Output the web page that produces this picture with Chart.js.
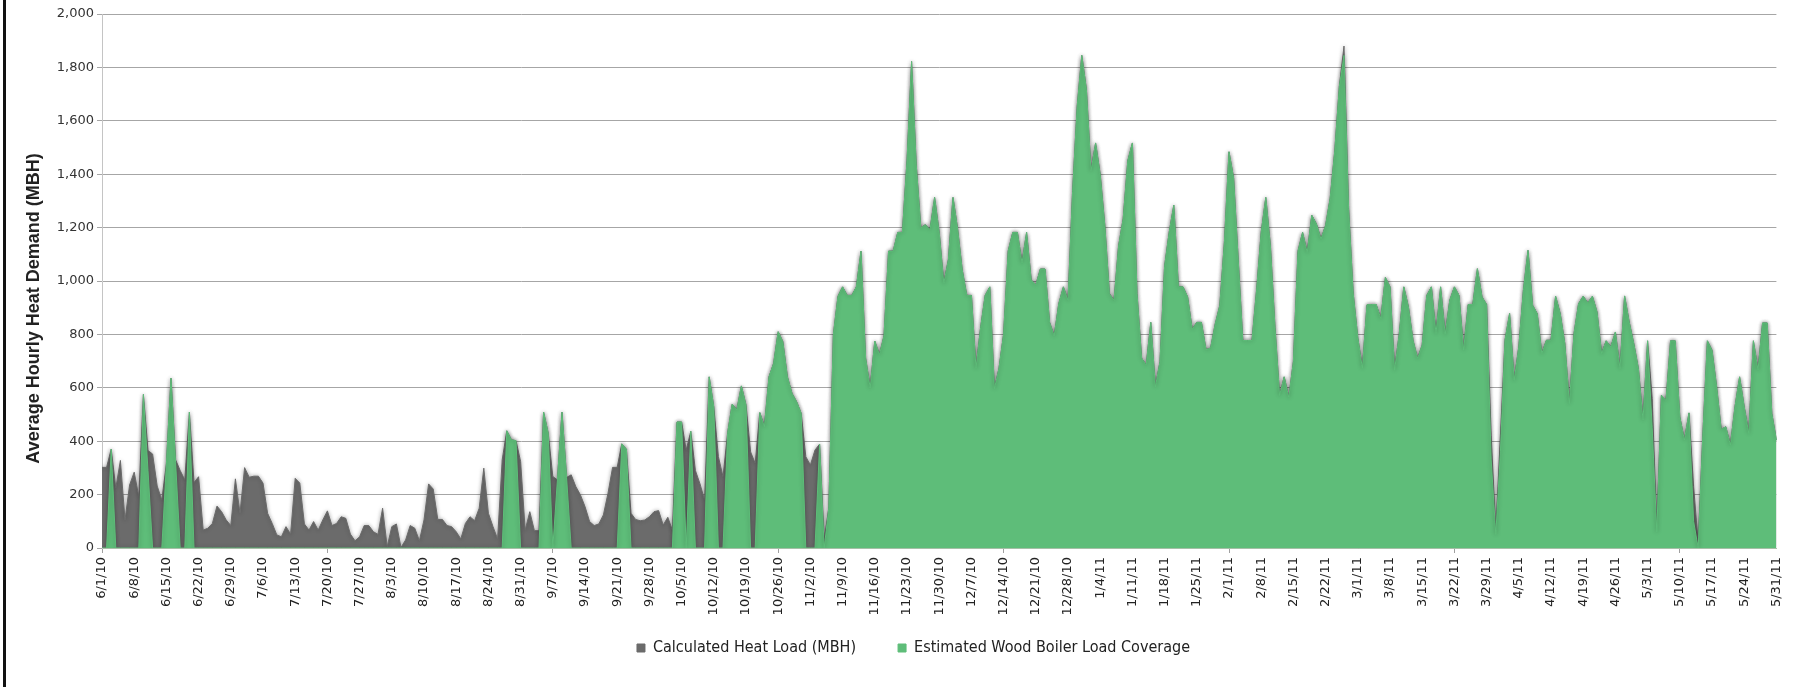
<!DOCTYPE html>
<html>
<head>
<meta charset="utf-8">
<title>Average Hourly Heat Demand</title>
<script src="https://cdn.jsdelivr.net/npm/chart.js@4.4.1/dist/chart.umd.min.js"></script>
<style>
  html, body { margin: 0; padding: 0; background: #fff; }
  #wrap { width: 1796px; height: 687px; }
</style>
</head>
<body>
<div id="wrap"><canvas id="heatChart" width="1796" height="687"></canvas></div>
<script>
/* daily values, 6/1/10 - 5/31/11, one array per month */
const loadJun = [302,302,370,224,328,105,236,284,193,575,365,352,232,180,315,636,330,290,255,509,245,267,67,74,92,157,136,105,84,259];
const boilJun = [0,0,370,0,0,0,0,0,0,575,290,0,0,0,315,636,320,0,0,509,0,0,0,0,0,0,0,0,0,0];

const loadJul = [130,301,265,269,269,243,130,92,49,42,80,52,261,243,90,67,99,67,105,139,84,92,117,111,52,27,42,84,84,61,51];
const boilJul = [0,0,0,0,0,0,0,0,0,0,0,0,0,0,0,0,0,0,0,0,0,0,0,0,0,0,0,0,0,0,0];

const loadAug = [149,5,80,90,2,30,84,74,27,105,240,221,107,107,84,80,61,34,92,117,102,149,299,130,80,34,330,439,405,402,324];
const boilAug = [0,0,0,0,0,0,0,0,0,0,0,0,0,0,0,0,0,0,0,0,0,0,0,0,0,0,0,439,405,402,0];

const loadSep = [67,136,65,65,509,430,268,255,509,264,274,230,199,155,99,84,90,124,205,302,302,390,370,130,107,102,105,117,136,140];
const boilSep = [0,0,0,0,509,430,0,255,509,264,0,0,0,0,0,0,0,0,0,0,0,390,370,0,0,0,0,0,0,0];

const loadOct = [86,115,67,472,472,367,437,290,240,180,641,527,342,267,429,539,517,607,535,360,317,507,454,641,691,810,773,641,579,548,504];
const boilOct = [0,0,0,472,472,0,437,0,0,0,641,527,0,0,429,539,517,607,535,0,0,507,454,641,691,810,773,641,579,548,504];

const loadNov = [342,311,367,389,30,150,800,943,978,946,946,978,1112,711,599,775,724,794,1112,1112,1182,1182,1450,1822,1437,1199,1211,1192,1313,1182];
const boilNov = [0,0,0,389,0,150,800,943,978,946,946,978,1112,711,599,775,724,794,1112,1112,1182,1182,1450,1822,1437,1199,1211,1192,1313,1182];

const loadDec = [991,1080,1313,1195,1042,946,946,673,825,946,978,596,673,800,1112,1182,1182,1067,1182,1004,985,1045,1045,845,794,915,978,927,1335,1654,1845];
const boilDec = [991,1080,1313,1195,1042,946,946,673,825,946,978,596,673,800,1112,1182,1182,1067,1182,1004,985,1045,1045,845,794,915,978,927,1335,1654,1845];

const loadJan = [1717,1412,1517,1399,1208,953,927,1131,1233,1450,1517,953,711,685,845,603,698,1055,1182,1284,978,978,940,819,845,845,743,749,838,908,1144];
const boilJan = [1717,1412,1517,1399,1208,953,927,1131,1233,1450,1517,953,711,685,845,603,698,1055,1182,1284,978,978,940,819,845,845,743,749,838,908,1144];

const loadFeb = [1484,1386,1080,777,777,777,966,1182,1313,1131,825,571,641,564,698,1112,1182,1106,1246,1214,1157,1208,1310,1488,1730,1880,1271,953];
const boilFeb = [1484,1386,1080,777,777,777,966,1182,1313,1131,825,571,641,564,698,1112,1182,1106,1246,1214,1157,1208,1310,1488,1730,1845,1271,953];

const loadMar = [787,673,911,912,912,859,1013,978,666,800,978,903,778,710,760,946,978,803,978,800,928,978,946,741,912,912,1046,940,912,420,60];
const boilMar = [787,673,911,912,912,859,1013,978,666,800,978,903,778,710,760,946,978,803,978,800,928,978,946,741,912,912,1046,940,912,330,50];

const loadApr = [420,778,878,628,753,965,1115,909,878,728,778,778,943,878,766,541,803,915,943,918,943,884,728,776,753,809,672,944,846,765];
const boilApr = [360,778,878,628,753,965,1115,909,878,728,778,778,943,878,766,541,803,915,943,918,943,884,728,776,753,809,672,944,846,765];

const loadMay = [672,479,776,560,70,572,553,776,776,491,404,506,230,20,420,776,741,604,444,454,385,529,641,529,429,776,666,843,843,504,404];
const boilMay = [672,479,776,450,60,572,553,776,776,491,404,506,100,0,420,776,741,604,444,454,385,529,641,529,429,776,666,843,843,504,404];

const weekLabels = [
    '6/1/10','6/8/10','6/15/10','6/22/10','6/29/10','7/6/10','7/13/10','7/20/10','7/27/10',
    '8/3/10','8/10/10','8/17/10','8/24/10','8/31/10','9/7/10','9/14/10','9/21/10','9/28/10',
    '10/5/10','10/12/10','10/19/10','10/26/10','11/2/10','11/9/10','11/16/10','11/23/10','11/30/10',
    '12/7/10','12/14/10','12/21/10','12/28/10','1/4/11','1/11/11','1/18/11','1/25/11',
    '2/1/11','2/8/11','2/15/11','2/22/11','3/1/11','3/8/11','3/15/11','3/22/11','3/29/11',
    '4/5/11','4/12/11','4/19/11','4/26/11','5/3/11','5/10/11','5/17/11','5/24/11','5/31/11'
];

const heatLoad = [].concat(loadJun, loadJul, loadAug, loadSep, loadOct, loadNov,
                           loadDec, loadJan, loadFeb, loadMar, loadApr, loadMay);
const boilerCoverage = [].concat(boilJun, boilJul, boilAug, boilSep, boilOct, boilNov,
                                 boilDec, boilJan, boilFeb, boilMar, boilApr, boilMay);

// one category per day
const dayLabels = heatLoad.map((_, i) => {
    const d = new Date(2010, 5, 1 + i);
    return (d.getMonth() + 1) + '/' + d.getDate() + '/' + String(d.getFullYear()).slice(2);
});

const GRAY = '#6b6b6b';
const GREEN = '#5ebd79';
const TICK_FONT = { family: "'DejaVu Sans', Verdana, sans-serif", size: 13 };

/* soft halo round the areas, like the original */
const areaGlow = {
    id: 'areaGlow',
    beforeDatasetsDraw(chart) {
        const ctx = chart.ctx;
        ctx.save();
        ctx.shadowColor = 'rgba(0,0,0,0.3)';
        ctx.shadowBlur = 4;
    },
    afterDatasetsDraw(chart) {
        chart.ctx.restore();
    }
};

/* legend sits a little right of the canvas centre in the original */
const legendNudge = {
    id: 'legendNudge',
    afterLayout(chart) {
        const lg = chart.legend;
        if (!lg) return;
        lg.left += 25;
        lg.right += 25;
    }
};

/* black frame edge on the left */
const frameEdge = {
    id: 'frameEdge',
    afterDraw(chart) {
        const ctx = chart.ctx;
        ctx.save();
        ctx.fillStyle = '#111';
        ctx.fillRect(3, 0, 3, chart.height);
        ctx.restore();
    }
};

new Chart(document.getElementById('heatChart'), {
    type: 'line',
    data: {
        labels: dayLabels,
        datasets: [{
            // trailing spaces widen the gap to the second legend item
            label: 'Calculated Heat Load (MBH)       ',
            data: heatLoad,
            backgroundColor: GRAY,
            borderColor: GRAY,
            borderWidth: 1,
            fill: 'origin',
            pointRadius: 0,
            tension: 0,
            order: 2
        }, {
            label: 'Estimated Wood Boiler Load Coverage',
            data: boilerCoverage,
            backgroundColor: GREEN,
            borderColor: GREEN,
            borderWidth: 1,
            fill: 'origin',
            pointRadius: 0,
            tension: 0,
            order: 1
        }]
    },
    options: {
        responsive: false,
        animation: false,
        devicePixelRatio: 1,
        layout: { padding: { left: 0, right: 19, top: 14, bottom: 21 } },
        plugins: {
            legend: {
                position: 'bottom',
                labels: {
                    boxWidth: 8,
                    boxHeight: 8,
                    padding: 10,
                    color: '#222',
                    font: { family: "'Liberation Sans Narrow', 'DejaVu Sans Condensed', sans-serif", size: 16 },
                    sort: (a, b) => a.datasetIndex - b.datasetIndex
                }
            },
            tooltip: { enabled: false }
        },
        scales: {
            x: {
                ticks: {
                    autoSkip: false,
                    minRotation: 90,
                    maxRotation: 90,
                    padding: 4,
                    color: '#222',
                    font: TICK_FONT,
                    callback: (val, i) => (i % 7 === 0 ? weekLabels[i / 7] : null)
                },
                grid: {
                    drawOnChartArea: false,
                    tickLength: 5,
                    color: (c) => (c.index % 7 === 0 ? '#a0a0a0' : 'rgba(0,0,0,0)')
                },
                border: { color: '#a7bfa7' },
                afterFit: (scale) => { scale.height = 82; }
            },
            y: {
                min: 0,
                max: 2000,
                ticks: {
                    stepSize: 200,
                    padding: 3,
                    color: '#333',
                    font: TICK_FONT,
                    callback: (v) => v.toLocaleString('en-US')
                },
                grid: { color: '#a6a6a6', tickLength: 5 },
                border: { color: '#c4c4c4' },
                title: {
                    display: true,
                    text: 'Average Hourly Heat Demand (MBH)           ',
                    color: '#222',
                    font: { family: "'Liberation Sans', Arial, sans-serif", weight: 'bold', size: 18 },
                    padding: { top: 23, bottom: 0 }
                },
                afterFit: (scale) => { scale.width = 102; }
            }
        }
    },
    plugins: [areaGlow, legendNudge, frameEdge]
});
</script>
</body>
</html>
